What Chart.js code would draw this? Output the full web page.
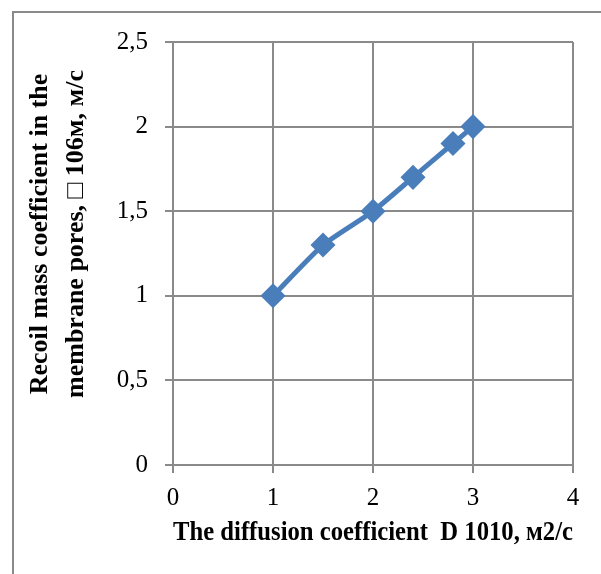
<!DOCTYPE html>
<html>
<head>
<meta charset="utf-8">
<script src="https://cdn.jsdelivr.net/npm/chart.js@4"></script>
<style>
  html, body { margin: 0; padding: 0; background: #fff; }
  #box { width: 601px; height: 574px; position: relative; }
</style>
</head>
<body>
<div id="box"><canvas id="myChart" width="601" height="574"></canvas></div>
<script>
// Datos
var diffusionValues = [1, 1.5, 2, 2.4, 2.8, 3];
var recoilValues = [1, 1.3, 1.5, 1.7, 1.9, 2];
var xTitle = 'The diffusion coefficient  D 1010, м2/с';
// espacios al inicio para subir un poco el texto, como en el original
var yTitle = ['      Recoil mass coefficient in the', '      membrane pores, \u25A1 106м, м/с'];

var points = diffusionValues.map(function(x, i) {
    return { x: x, y: recoilValues[i] };
});

var gridColor = '#8a8a8a';
var blue = '#4a7ebb';

// marco exterior (solo borde izquierdo y superior visibles)
var framePlugin = {
    id: 'frame',
    beforeDraw: function(chart) {
        var c = chart.ctx;
        c.save();
        c.strokeStyle = '#8a8a8a';
        c.lineWidth = 2;
        c.beginPath();
        c.moveTo(13, 600);
        c.lineTo(13, 12);
        c.lineTo(610, 12);
        c.stroke();
        c.restore();
    }
};

const ctx = document.getElementById('myChart').getContext('2d');
window.myChart = new Chart(ctx, {
    type: 'scatter',
    data: {
        datasets: [{
            data: points,
            showLine: true,
            borderColor: blue,
            backgroundColor: blue,
            borderWidth: 5,
            tension: 0.2,
            pointStyle: 'rectRot',
            pointRadius: 9,
            pointHoverRadius: 9
        }]
    },
    options: {
        responsive: false,
        animation: false,
        devicePixelRatio: 1,
        layout: { padding: { top: 42, right: 28, left: 0, bottom: 0 } },
        plugins: { legend: { display: false }, tooltip: { enabled: false } },
        scales: {
            x: {
                type: 'linear',
                min: 0,
                max: 4,
                afterFit: function(scale) { scale.height = 109; },
                ticks: {
                    stepSize: 1,
                    padding: 10,
                    color: '#000',
                    font: { family: 'Liberation Serif', size: 25 }
                },
                grid: { color: gridColor, lineWidth: 2, tickLength: 8 },
                border: { color: gridColor, width: 2 },
                title: {
                    display: true,
                    text: xTitle,
                    color: '#000',
                    font: { family: 'Liberation Serif', size: 27, weight: 'bold' },
                    padding: { top: 0, bottom: 25 }
                }
            },
            y: {
                min: 0,
                max: 2.5,
                afterFit: function(scale) { scale.width = 173; },
                ticks: {
                    stepSize: 0.5,
                    padding: 17,
                    color: '#000',
                    font: { family: 'Liberation Serif', size: 25 },
                    callback: function(v) { return String(v).replace('.', ','); }
                },
                grid: { color: gridColor, lineWidth: 2, tickLength: 8 },
                border: { color: gridColor, width: 2 },
                title: {
                    display: true,
                    text: yTitle,
                    color: '#000',
                    font: { family: 'Liberation Serif', size: 26, weight: 'bold', lineHeight: 1.38 },
                    padding: { top: 22, bottom: 0 }
                }
            }
        }
    },
    plugins: [framePlugin]
});
</script>
</body>
</html>
